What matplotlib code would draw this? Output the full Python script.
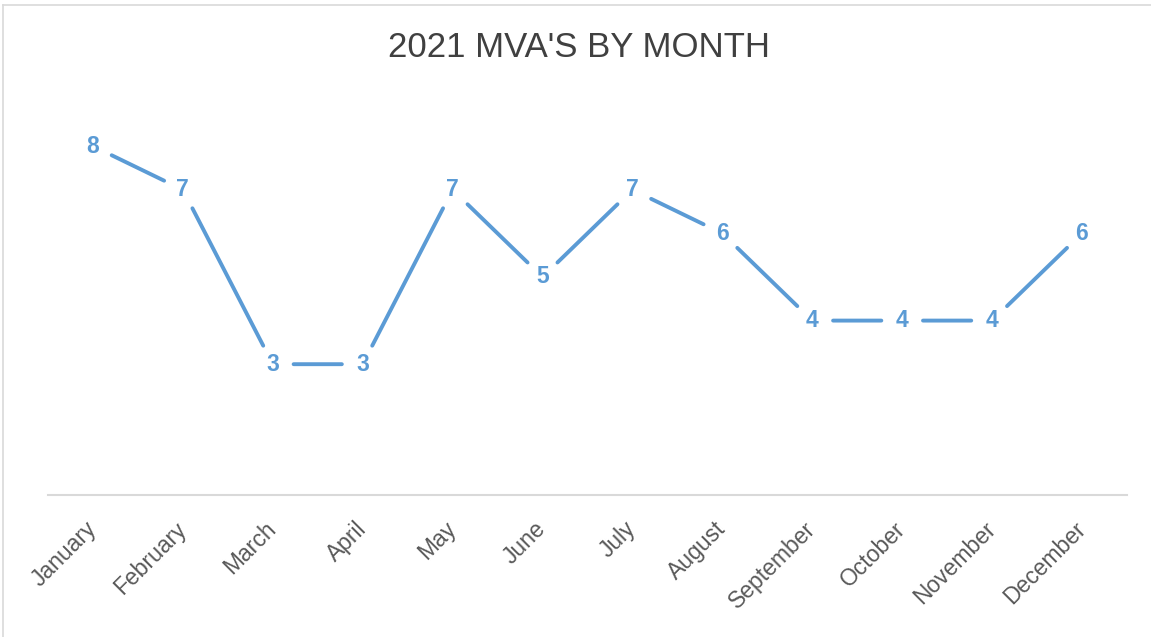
import matplotlib.pyplot as plt
from matplotlib.lines import Line2D

months = ['January', 'February', 'March', 'April', 'May', 'June', 'July',
          'August', 'September', 'October', 'November', 'December']
mvas = [8, 7, 3, 3, 7, 5, 7, 6, 4, 4, 4, 6]

blue = '#5B9BD5'
grey = '#595959'

fig = plt.figure(figsize=(11.51, 6.37), dpi=100)
ax = fig.add_axes([0.0417, 0.2229, 0.9374, 0.6161])

x = list(range(len(months)))

# line segments, shortened at both ends so the data labels sit in a gap
for i in range(len(x) - 1):
    ax.annotate('', xy=(x[i + 1], mvas[i + 1]), xytext=(x[i], mvas[i]),
                arrowprops=dict(arrowstyle='-', color=blue, lw=2.8,
                                shrinkA=15, shrinkB=15))

for xi, v in zip(x, mvas):
    ax.text(xi, v, str(v), ha='center', va='center', fontsize=16.5,
            fontweight='bold', color=blue, family='Liberation Sans')

ax.set_xlim(-0.5, len(months) - 0.5)
ax.set_ylim(0, 9)
ax.set_yticks([])
ax.set_xticks(x)
ax.set_xticklabels(months, rotation=45, ha='right', va='center',
                   rotation_mode='anchor', fontsize=16.5, color=grey,
                   family='Liberation Sans')
ax.tick_params(axis='x', length=0, pad=22)
for side in ['top', 'right', 'left']:
    ax.spines[side].set_visible(False)
ax.spines['bottom'].set_color('#D9D9D9')
ax.spines['bottom'].set_linewidth(1.5)

fig.text(0.503, 0.925, "2021 MVA'S BY MONTH", ha='center', va='center',
         fontsize=25, color='#404040', family='Liberation Sans')

# chart area frame (only top and left edges are visible)
fig.add_artist(Line2D([0.003, 1.0], [0.992, 0.992], transform=fig.transFigure,
                      color='#D9D9D9', lw=1.2))
fig.add_artist(Line2D([0.003, 0.003], [0.0, 0.992], transform=fig.transFigure,
                      color='#D9D9D9', lw=1.2))

fig.savefig('out.png', dpi=100)
